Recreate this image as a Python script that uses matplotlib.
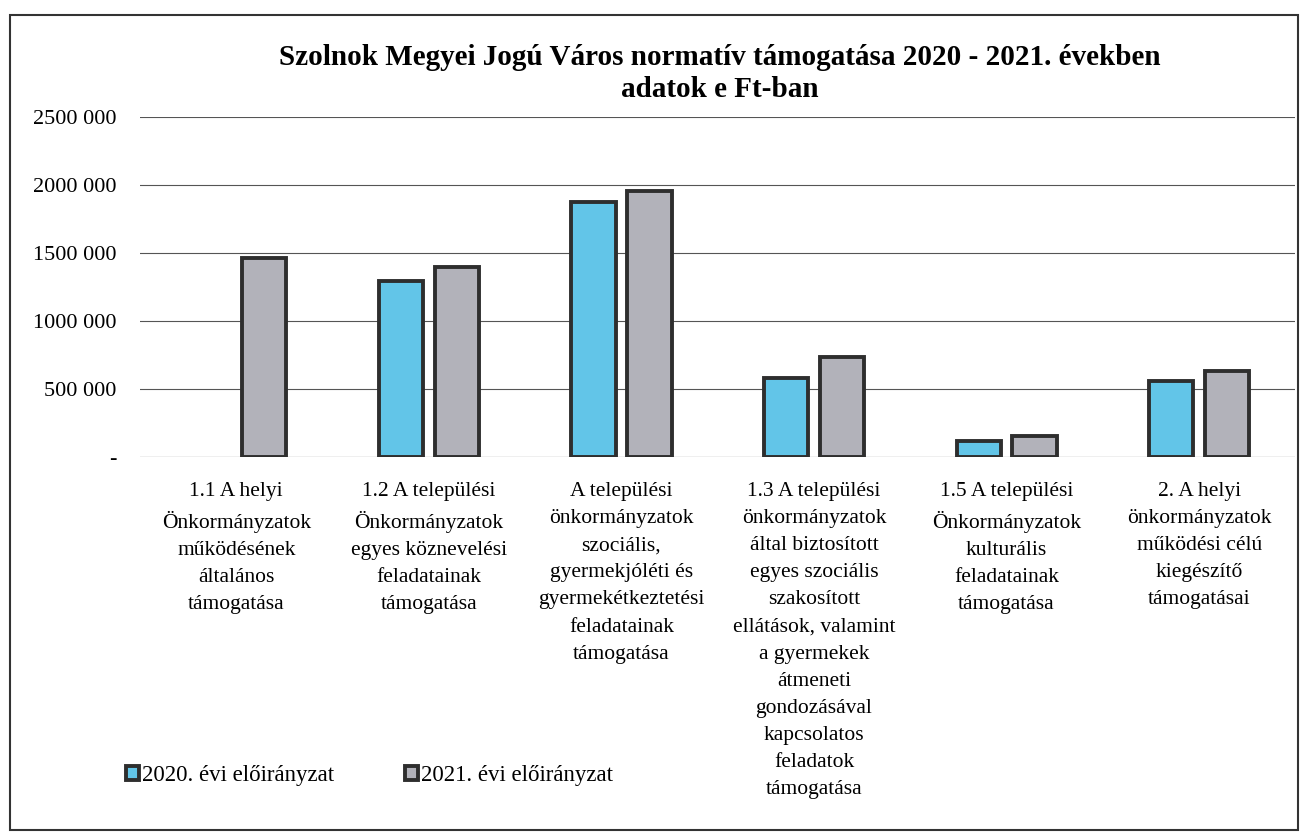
import numpy as np
import matplotlib.pyplot as plt
from matplotlib.patches import Rectangle

plt.rcParams['font.family'] = ['Liberation Serif', 'DejaVu Serif']

categories = [
    "1.1 A helyi\nÖnkormányzatok\nműködésének\náltalános\ntámogatása",
    "1.2 A települési\nÖnkormányzatok\negyes köznevelési\nfeladatainak\ntámogatása",
    "A települési\nönkormányzatok\nszociális,\ngyermekjóléti és\ngyermekétkeztetési\nfeladatainak\ntámogatása",
    "1.3 A települési\nönkormányzatok\náltal biztosított\negyes szociális\nszakosított\nellátások, valamint\na gyermekek\nátmeneti\ngondozásával\nkapcsolatos\nfeladatok\ntámogatása",
    "1.5 A települési\nÖnkormányzatok\nkulturális\nfeladatainak\ntámogatása",
    "2. A helyi\nönkormányzatok\nműködési célú\nkiegészítő\ntámogatásai",
]
v2020 = [0, 1294000, 1875000, 581000, 118000, 559000]
v2021 = [1463000, 1397000, 1956000, 735000, 154000, 632000]
series_names = ["2020. évi előirányzat", "2021. évi előirányzat"]
yticks = [0, 500000, 1000000, 1500000, 2000000, 2500000]
ytick_labels = ["-", "500 000", "1000 000", "1500 000", "2000 000", "2500 000"]

fig = plt.figure(figsize=(13.02, 8.33), dpi=100)
ax = fig.add_axes([0.1075, 0.4514, 0.8875, 0.408])

x = np.arange(len(categories))
w = 0.23
off = 0.145
c2020 = '#62c5e8'
c2021 = '#b2b2ba'
edge = '#2e2e2e'

a = np.array(v2020, dtype=float)
m = a > 0  # 2020 has no bar for the first category
ax.bar(x[m] - off, a[m], w, color=c2020, edgecolor=edge, linewidth=2.8,
       label=series_names[0], zorder=3)
ax.bar(x + off, v2021, w, color=c2021, edgecolor=edge, linewidth=2.8,
       label=series_names[1], zorder=3)

ax.set_xlim(-0.5, len(categories) - 0.5)
ax.set_ylim(0, 2500000)
ax.set_yticks(yticks)
ax.set_yticklabels(ytick_labels, fontsize=16)
ax.set_xticks(x)
ax.set_xticklabels(categories, fontsize=15.5, linespacing=1.58, va='top')
ax.tick_params(axis='both', length=0)
ax.tick_params(axis='x', pad=18)
ax.tick_params(axis='y', pad=17)
for s in ax.spines.values():
    s.set_visible(False)
ax.grid(axis='y', color='#555555', linewidth=0.8, zorder=0)
ax.axhline(0, color='#dddddd', linewidth=1, zorder=1)

fig.text(0.553, 0.931, "Szolnok Megyei Jogú Város normatív támogatása 2020 - 2021. években",
         ha='center', va='center', fontsize=21, fontweight='bold')
fig.text(0.553, 0.893, "adatok e Ft-ban", ha='center', va='center',
         fontsize=21, fontweight='bold')

fig.legend(loc='lower left', bbox_to_anchor=(0.081, 0.032), ncol=2, frameon=False,
           fontsize=16.5, handlelength=0.55, handleheight=0.55, handletextpad=0.15,
           columnspacing=3.1)

fig.patches.append(Rectangle((0.008, 0.004), 0.989, 0.978, transform=fig.transFigure,
                             fill=False, edgecolor='#333333', linewidth=1.5))

fig.savefig('out.png', dpi=100)
